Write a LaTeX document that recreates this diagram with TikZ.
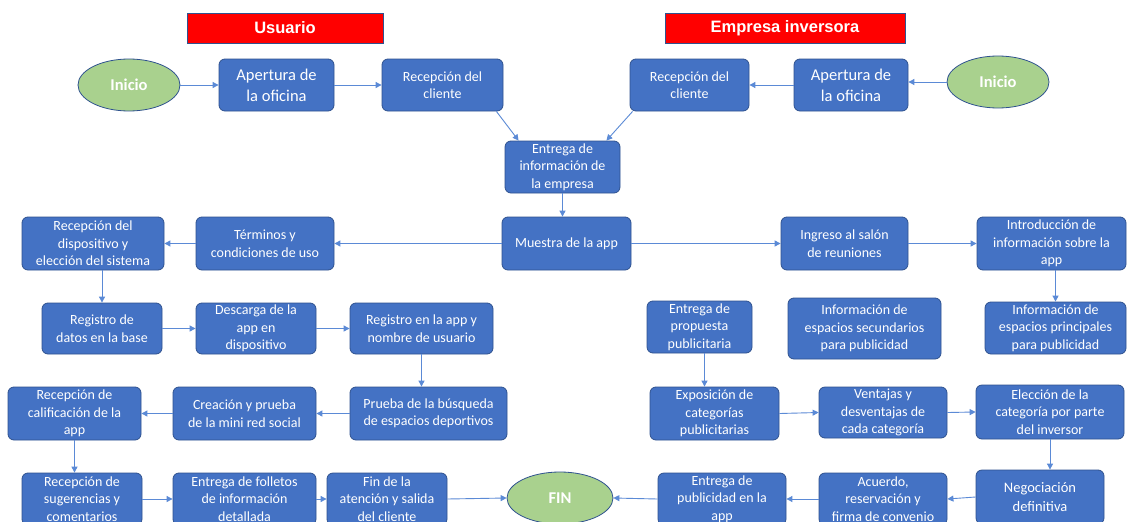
\documentclass[tikz,border=0pt]{standalone}
\usepackage{fontspec}
\setmainfont{Carlito}
\newfontfamily\titlefont{Liberation Sans}
\usetikzlibrary{arrows.meta,shapes.geometric}
\definecolor{boxblue}{HTML}{4472C4}
\definecolor{edgeblue}{HTML}{2F528F}
\definecolor{arrowblue}{HTML}{5B8AD6}
\definecolor{startgreen}{HTML}{A9D18E}
\definecolor{titlered}{HTML}{FF0000}
\tikzset{
 procbox/.style={rectangle, rounded corners=6pt, fill=boxblue, draw=edgeblue, line width=0.8pt, text=white, align=center, inner sep=0pt, font=\fontsize{14}{17.5}\selectfont},
 bigtext/.style={font=\fontsize{16.5}{21}\selectfont},
 terminal/.style={ellipse, fill=startgreen, draw=edgeblue, line width=0.8pt, text=white, inner sep=0pt, font=\fontsize{16.5}{20}\selectfont\bfseries},
 titlebox/.style={rectangle, fill=titlered, draw=edgeblue, line width=0.6pt, text=white, inner sep=0pt, font=\titlefont\fontsize{16.5}{20}\selectfont\bfseries},
 flow/.style={draw=arrowblue, line width=0.9pt, -{Triangle[length=6pt,width=6pt]}},
}
\begin{document}
\begin{tikzpicture}[x=1pt,y=-1pt]
\fill[white] (0,0) rectangle (1127,522);
\useasboundingbox (0,0) rectangle (1127,522);
% titles
\node[titlebox, minimum width=196pt, minimum height=30pt] (usuario) at (285,28) {Usuario};
\node[titlebox, minimum width=240pt, minimum height=30pt] (empresa) at (785,28) {Empresa inversora};
% row 1
\node[terminal, minimum width=102pt, minimum height=52pt] (iniL) at (129,85) {Inicio};
\node[procbox, bigtext, minimum width=115pt, minimum height=52pt] (aperL) at (276.5,85) {Apertura de\\la oficina};
\node[procbox, minimum width=121pt, minimum height=52pt] (recL) at (442.5,85) {Recepción del\\cliente};
\node[procbox, minimum width=119pt, minimum height=52pt] (recR) at (689.5,85) {Recepción del\\cliente};
\node[procbox, bigtext, minimum width=114pt, minimum height=52pt] (aperR) at (851,85) {Apertura de\\la oficina};
\node[terminal, minimum width=102pt, minimum height=52pt] (iniR) at (998,82) {Inicio};
% row 2
\node[procbox, minimum width=115pt, minimum height=52pt] (entrega) at (562.5,167) {Entrega de\\información de\\la empresa};
% row 3
\node[procbox, minimum width=129pt, minimum height=53pt] (muestra) at (566.5,243.5) {Muestra de la app};
\node[procbox, minimum width=138pt, minimum height=53pt] (terminos) at (265,243.5) {Términos y\\condiciones de uso};
\node[procbox, minimum width=142pt, minimum height=53pt] (recdisp) at (93,243.5) {Recepción del\\dispositivo y\\elección del sistema};
\node[procbox, minimum width=127pt, minimum height=53pt] (ingreso) at (844.5,243.5) {Ingreso al salón\\de reuniones};
\node[procbox, minimum width=149pt, minimum height=53pt] (intro) at (1051.5,243.5) {Introducción de\\información sobre la\\app};
% row 4
\node[procbox, minimum width=120pt, minimum height=51pt] (regdatos) at (102,328.5) {Registro de\\datos en la base};
\node[procbox, minimum width=120pt, minimum height=51pt] (descarga) at (256,328.5) {Descarga de la\\app en\\dispositivo};
\node[procbox, minimum width=143pt, minimum height=51pt] (regapp) at (421.5,328.5) {Registro en la app y\\nombre de usuario};
\node[procbox, minimum width=105pt, minimum height=52pt] (propuesta) at (699.5,327) {Entrega de\\propuesta\\publicitaria};
\node[procbox, minimum width=153pt, minimum height=61pt] (secund) at (864.5,328.5) {Información de\\espacios secundarios\\para publicidad};
\node[procbox, minimum width=141pt, minimum height=52pt] (princip) at (1055.5,328) {Información de\\espacios principales\\para publicidad};
% row 5
\node[procbox, minimum width=133pt, minimum height=53pt] (recalif) at (74.5,413.5) {Recepción de\\calificación de la\\app};
\node[procbox, minimum width=143pt, minimum height=53pt] (creacion) at (244.5,413.5) {Creación y prueba\\de la mini red social};
\node[procbox, minimum width=157pt, minimum height=53pt] (prueba) at (428.5,413.5) {Prueba de la búsqueda\\de espacios deportivos};
\node[procbox, minimum width=129pt, minimum height=53pt] (exposicion) at (714.5,413.5) {Exposición de\\categorías\\publicitarias};
\node[procbox, minimum width=128pt, minimum height=51pt] (ventajas) at (883,412.5) {Ventajas y\\desventajas de\\cada categoría};
\node[procbox, minimum width=148pt, minimum height=54pt] (eleccion) at (1050,412) {Elección de la\\categoría por parte\\del inversor};
% row 6
\node[procbox, minimum width=120pt, minimum height=52pt] (sugerencias) at (82,499) {Recepción de\\sugerencias y\\comentarios};
\node[procbox, minimum width=143pt, minimum height=52pt] (folletos) at (244.5,499) {Entrega de folletos\\de información\\detallada};
\node[procbox, minimum width=120pt, minimum height=52pt] (finaten) at (387,499) {Fin de la\\atención y salida\\del cliente};
\node[terminal, minimum width=106pt, minimum height=52pt] (fin) at (560,498) {FIN};
\node[procbox, minimum width=128pt, minimum height=52pt] (entpub) at (722,499) {Entrega de\\publicidad en la\\app};
\node[procbox, minimum width=128pt, minimum height=52pt] (acuerdo) at (883,499) {Acuerdo,\\reservación y\\firma de convenio};
\node[procbox, bigtext, minimum width=128pt, minimum height=54pt, font=\fontsize{14.5}{19}\selectfont] (negoc) at (1040,497) {Negociación\\definitiva};
% connectors
\draw[flow] (iniL.east) -- (aperL.west);
\draw[flow] (aperL.east) -- (recL.west);
\draw[flow] ([xshift=-7pt]recL.south east) -- ([xshift=14pt]entrega.north west);
\draw[flow] ([xshift=3pt]recR.south west) -- ([xshift=-14pt]entrega.north east);
\draw[flow] (aperR.west) -- (recR.east);
\draw[flow] (iniR.west) -- (iniR.west -| aperR.east);
\draw[flow] (entrega.south) -- (entrega.south |- muestra.north);
\draw[flow] (muestra.west) -- (terminos.east);
\draw[flow] (terminos.west) -- (recdisp.east);
\draw[flow] (muestra.east) -- (ingreso.west);
\draw[flow] (ingreso.east) -- (intro.west);
\draw[flow] (regdatos.north |- recdisp.south) -- (regdatos.north);
\draw[flow] (regdatos.east) -- (descarga.west);
\draw[flow] (descarga.east) -- (regapp.west);
\draw[flow] (regapp.south) -- (regapp.south |- prueba.north);
\draw[flow] (prueba.west) -- (creacion.east);
\draw[flow] (creacion.west) -- (recalif.east);
\draw[flow] (recalif.south) -- (recalif.south |- sugerencias.north);
\draw[flow] (sugerencias.east) -- (folletos.west);
\draw[flow] (folletos.east) -- (finaten.west);
\draw[flow] (finaten.east) -- (fin.west);
\draw[flow] (princip.north |- intro.south) -- (princip.north);
\draw[flow] ([xshift=5pt]propuesta.south) -- ([xshift=5pt]propuesta.south |- exposicion.north);
\draw[flow] (exposicion.east) -- (ventajas.west);
\draw[flow] (ventajas.east) -- (eleccion.west);
\draw[flow] (eleccion.south) -- (eleccion.south |- negoc.north);
\draw[flow] (negoc.west) -- (acuerdo.east);
\draw[flow] (acuerdo.west) -- (entpub.east);
\draw[flow] (entpub.west) -- (fin.east);
\end{tikzpicture}
\end{document}
